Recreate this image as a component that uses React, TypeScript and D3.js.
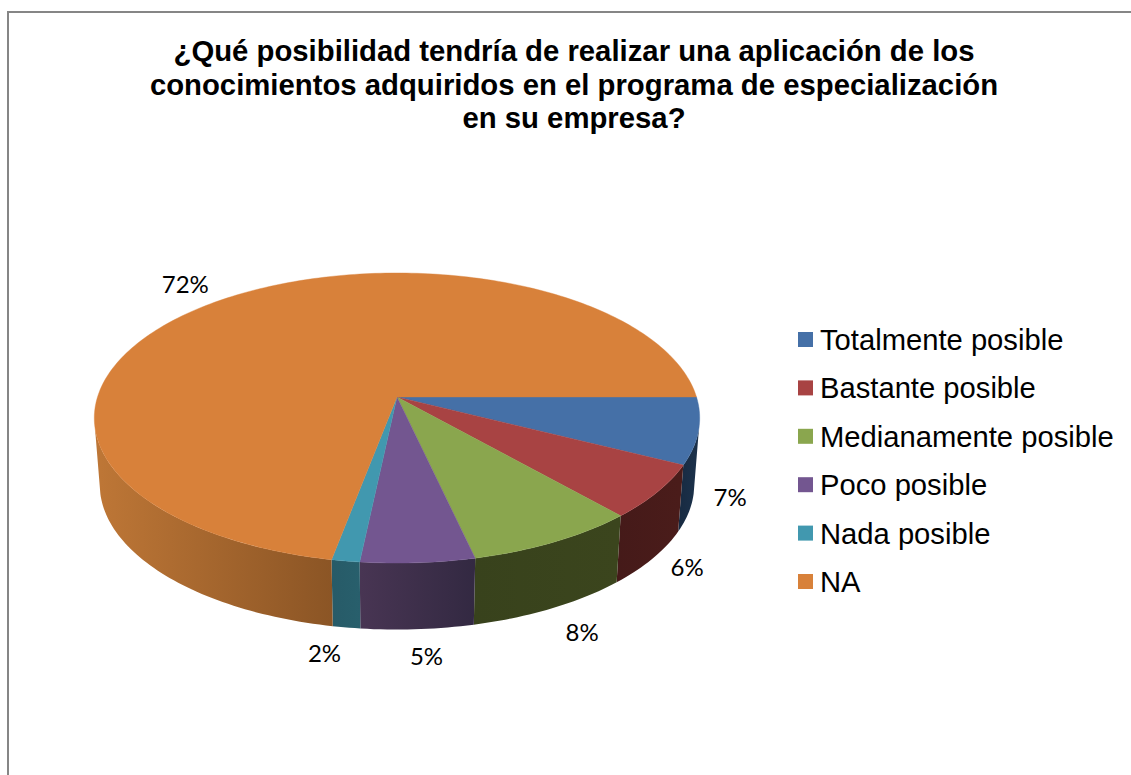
import * as d3 from 'd3';

const CATEGORIES = ['Totalmente posible', 'Bastante posible', 'Medianamente posible', 'Poco posible', 'Nada posible', 'NA'];
const SHARES = [7.4, 6.0, 8.0, 5.3, 1.3, 72.0];
const LABELS = ['7%', '6%', '8%', '5%', '2%', '72%'];
const TITLE_LINES = [
  '¿Qué posibilidad tendría de realizar una aplicación de los',
  'conocimientos adquiridos en el programa de especialización',
  'en su empresa?',
];

const TOP_COLORS = ['#4570a7', '#a84343', '#8aa64e', '#735690', '#4198af', '#d8813a'];
const SIDE_FROM = ['#1b3049', '#4a1c1a', '#3b451d', '#483553', '#285f6c', '#bd7636'];
const SIDE_TO = ['#172a41', '#451a19', '#38421c', '#332942', '#275b68', '#8b5525'];
// label offset from the rim point at each slice's mid angle
const LABEL_NUDGE = [[37, 0], [34, 9], [30, 24], [9, 27], [-22, 26], [-40, -14]];

const WIDTH = 1131;
const HEIGHT = 775;
const APEX = { x: 397, y: 397 };
const RX = 299.5;
const RY = 142;
const TILT = 0.145; // perspective: the near edge of the disc is drawn larger
const BASE_SCALE = 0.982;
const BASE_DROP = 66.5;
// the wall is only seen between the two silhouette tangents
const WALL_START = (12 * Math.PI) / 180;
const WALL_END = (168 * Math.PI) / 180;

// circle point to screen, on the top face or the base of the pie
function project(angle: number, radius: number, base = false): [number, number] {
  const u = Math.cos(angle) * radius;
  const v = Math.sin(angle) * radius;
  const x = (RX * u) / (1 - TILT * v);
  const y = (RY * v) / (1 - TILT * v);
  return base
    ? [APEX.x + x * BASE_SCALE, APEX.y + y + BASE_DROP]
    : [APEX.x + x, APEX.y + y];
}

function arcAngles(a0: number, a1: number) {
  const steps = Math.max(2, Math.ceil((a1 - a0) / 0.02));
  return d3.range(steps + 1).map(i => a0 + ((a1 - a0) * i) / steps);
}

const line = d3.line();

export default function App() {
  const slices = d3.pie<number>().sort(null).startAngle(0).endAngle(2 * Math.PI)(SHARES);

  const faces = slices.map(s => {
    const rim = arcAngles(s.startAngle, s.endAngle).map(a => project(a, 1));
    return line([[APEX.x, APEX.y], ...rim])! + 'Z';
  });

  const walls = slices.map(s => {
    const start = Math.max(s.startAngle, WALL_START);
    const end = Math.min(s.endAngle, WALL_END);
    const angles = arcAngles(start, end);
    const top = angles.map(a => project(a, 1));
    const bottom = angles.map(a => project(a, 1, true)).reverse();
    return { d: line([...top, ...bottom])! + 'Z', x0: d3.min(bottom, p => p[0])!, x1: d3.max(bottom, p => p[0])! };
  });

  const labelPoints = slices.map((s, i) => {
    const mid = (s.startAngle + s.endAngle) / 2;
    const [x, y] = project(mid, 1, Math.sin(mid) > 0);
    return [x + LABEL_NUDGE[i][0], y + LABEL_NUDGE[i][1]];
  });

  const legendY = d3.scalePoint<string>().domain(CATEGORIES).range([339.5, 581.5]);

  return (
    <svg width={WIDTH} height={HEIGHT} style={{ position: 'absolute', left: 0, top: 0, background: '#fff' }}>
      <defs>
        {walls.map((w, i) => (
          <linearGradient key={i} id={`side-${i}`} gradientUnits="userSpaceOnUse" x1={i === 5 ? w.x0 : w.x1} x2={i === 5 ? w.x1 : w.x0} y1={0} y2={0}>
            <stop offset="0%" stopColor={i === 3 ? SIDE_TO[i] : SIDE_FROM[i]} />
            <stop offset="100%" stopColor={i === 3 ? SIDE_FROM[i] : SIDE_TO[i]} />
          </linearGradient>
        ))}
      </defs>

      <path d={`M8,${HEIGHT}V12H${WIDTH}`} fill="none" stroke="#868686" strokeWidth={2} />

      <g fontFamily="'Liberation Sans', Arial, sans-serif" fontWeight="bold" fontSize={29.3} fill="#000" textAnchor="middle">
        {TITLE_LINES.map((t, i) => (
          <text key={t} x={574} y={61 + i * 33.5}>{t}</text>
        ))}
      </g>

      {walls.map((w, i) => (
        <path key={i} d={w.d} fill={`url(#side-${i})`} />
      ))}
      {faces.map((d, i) => (
        <path key={i} d={d} fill={TOP_COLORS[i]} stroke={TOP_COLORS[i]} strokeWidth={0.4} />
      ))}

      <g fontFamily="Lato, sans-serif" fontSize={24} fill="#000" textAnchor="middle">
        {LABELS.map((t, i) => (
          <text key={t} x={labelPoints[i][0]} y={labelPoints[i][1]} dy="0.36em">{t}</text>
        ))}
      </g>

      <g fontFamily="'Liberation Sans', Arial, sans-serif" fontSize={29.2} fill="#000">
        {CATEGORIES.map((c, i) => (
          <g key={c} transform={`translate(798,${legendY(c)})`}>
            <rect y={-7.5} width={15} height={15} fill={TOP_COLORS[i]} />
            <text x={22} dy="0.36em">{c}</text>
          </g>
        ))}
      </g>
    </svg>
  );
}
